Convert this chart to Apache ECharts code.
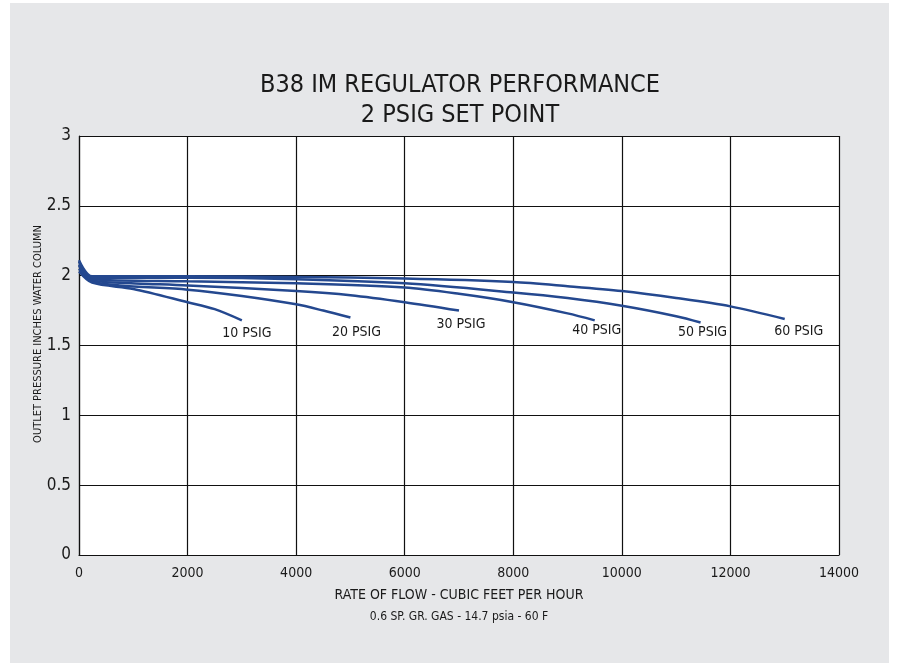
<!DOCTYPE html>
<html>
<head>
<meta charset="utf-8">
<title>B38 IM Regulator Performance</title>
<script src="https://cdn.jsdelivr.net/npm/echarts@6/dist/echarts.min.js"></script>
<style>
  html, body {
    margin: 0;
    padding: 0;
    background: #fff;
  }
  .frame {
    position: absolute;
    left: 10px;
    top: 3px;
    width: 879px;
    height: 660px;
    background-color: #e6e7e9;
  }
  #myChart {
    position: absolute;
    left: 0;
    top: 0;
    width: 899px;
    height: 666px;
  }
</style>
</head>
<body>
<div class="frame"></div>
<div id="myChart"></div>
<script>
// flow (cfh) / outlet pressure (in. w.c.)
const psig10X = [0, 240, 1000, 2000, 2500, 3000]
const psig10Y = [2.03, 1.95, 1.905, 1.81, 1.76, 1.68]
const psig20X = [0, 240, 750, 2000, 3000, 4000, 4500, 5000]
const psig20Y = [2.05, 1.96, 1.93, 1.90, 1.855, 1.795, 1.75, 1.70]
const psig30X = [0, 240, 750, 2000, 4000, 5000, 6000, 7000]
const psig30Y = [2.07, 1.97, 1.95, 1.93, 1.89, 1.86, 1.81, 1.75]
const psig40X = [0, 240, 2000, 4000, 6000, 7000, 8000, 9000, 9500]
const psig40Y = [2.08, 1.975, 1.96, 1.945, 1.915, 1.87, 1.81, 1.73, 1.68]
const psig50X = [0, 240, 2000, 4000, 6000, 8000, 9000, 10000, 11000, 11450]
const psig50Y = [2.10, 1.985, 1.985, 1.975, 1.945, 1.88, 1.84, 1.785, 1.71, 1.665]
const psig60X = [0, 240, 2000, 4000, 6000, 8000, 9000, 10000, 11000, 12000, 13000]
const psig60Y = [2.11, 1.995, 1.995, 1.99, 1.98, 1.955, 1.925, 1.89, 1.84, 1.78, 1.69]

const seriesNames = ['10 PSIG', '20 PSIG', '30 PSIG', '40 PSIG', '50 PSIG', '60 PSIG']
const xTicks = [0, 2000, 4000, 6000, 8000, 10000, 12000, 14000]
const yTicks = [0, 0.5, 1, 1.5, 2, 2.5, 3]

const lineColor = '#24488f'
const fontFam = "'Liberation Sans Narrow', 'DejaVu Sans Condensed', 'Roboto', sans-serif"

// label offset (px) from the end of each curve
const labelOffsets = [[5, 13], [6, 15], [2, 14], [2, 10], [2, 10], [14, 12]]

function pairUp (xs, ys) {
  return xs.map((x, i) => [x, ys[i]])
}

let curves = [
  pairUp(psig10X, psig10Y),
  pairUp(psig20X, psig20Y),
  pairUp(psig30X, psig30Y),
  pairUp(psig40X, psig40Y),
  pairUp(psig50X, psig50Y),
  pairUp(psig60X, psig60Y)
]

let myChart = echarts.init(document.getElementById('myChart'))

let series = curves.map((pts, i) => {
  let last = pts[pts.length - 1]
  return {
    name: seriesNames[i],
    type: 'line',
    data: pts,
    smooth: 0.3,
    symbol: 'none',
    lineStyle: {
      color: lineColor,
      width: 2.5
    },
    markPoint: {
      symbol: 'circle',
      symbolSize: 1,
      itemStyle: { color: 'rgba(0,0,0,0)' },
      label: {
        show: true,
        formatter: seriesNames[i],
        position: 'inside',
        offset: labelOffsets[i],
        color: '#1a1a1a',
        fontSize: 14,
        fontFamily: fontFam
      },
      data: [{ coord: last }]
    }
  }
})

let options = {
  animation: false,
  backgroundColor: 'transparent',
  grid: {
    left: 79,
    right: 60,
    top: 136,
    bottom: 111,
    show: true,
    backgroundColor: '#fff',
    borderWidth: 0
  },
  xAxis: {
    type: 'value',
    min: xTicks[0],
    max: xTicks[xTicks.length - 1],
    interval: 2000,
    axisLine: { show: true, lineStyle: { color: '#111', width: 1.2 } },
    axisTick: { show: false },
    splitLine: { show: true, lineStyle: { color: '#111', width: 1.2 } },
    axisLabel: {
      color: '#1a1a1a',
      fontSize: 14,
      fontFamily: fontFam,
      margin: 11,
      formatter: (v) => String(v)
    }
  },
  yAxis: {
    type: 'value',
    min: yTicks[0],
    max: yTicks[yTicks.length - 1],
    interval: 0.5,
    axisLine: { show: true, lineStyle: { color: '#111', width: 1.2 } },
    axisTick: { show: false },
    splitLine: { show: true, lineStyle: { color: '#111', width: 1.2 } },
    axisLabel: {
      color: '#1a1a1a',
      fontSize: 17,
      fontFamily: fontFam,
      margin: 8,
      formatter: (v) => String(v)
    }
  },
  graphic: [{
    type: 'text',
    x: 460,
    y: 100,
    style: {
      text: 'B38 IM REGULATOR PERFORMANCE\n2 PSIG SET POINT',
      align: 'center',
      verticalAlign: 'middle',
      lineHeight: 30,
      fontSize: 25,
      fontFamily: fontFam,
      fill: '#1a1a1a'
    }
  }, {
    type: 'text',
    x: 459,
    y: 595,
    style: {
      text: 'RATE OF FLOW - CUBIC FEET PER HOUR',
      align: 'center',
      verticalAlign: 'middle',
      fontSize: 14,
      fontFamily: fontFam,
      fill: '#1a1a1a'
    }
  }, {
    type: 'text',
    x: 459,
    y: 617,
    style: {
      text: '0.6 SP. GR. GAS - 14.7 psia - 60 F',
      align: 'center',
      verticalAlign: 'middle',
      fontSize: 12,
      fontFamily: fontFam,
      fill: '#1a1a1a'
    }
  }, {
    type: 'text',
    x: 38,
    y: 334,
    rotation: Math.PI / 2,
    style: {
      text: 'OUTLET PRESSURE INCHES WATER COLUMN',
      align: 'center',
      verticalAlign: 'middle',
      fontSize: 11,
      fontFamily: fontFam,
      fill: '#1a1a1a'
    }
  }],
  series: series
}

myChart.setOption(options)
</script>
</body>
</html>
